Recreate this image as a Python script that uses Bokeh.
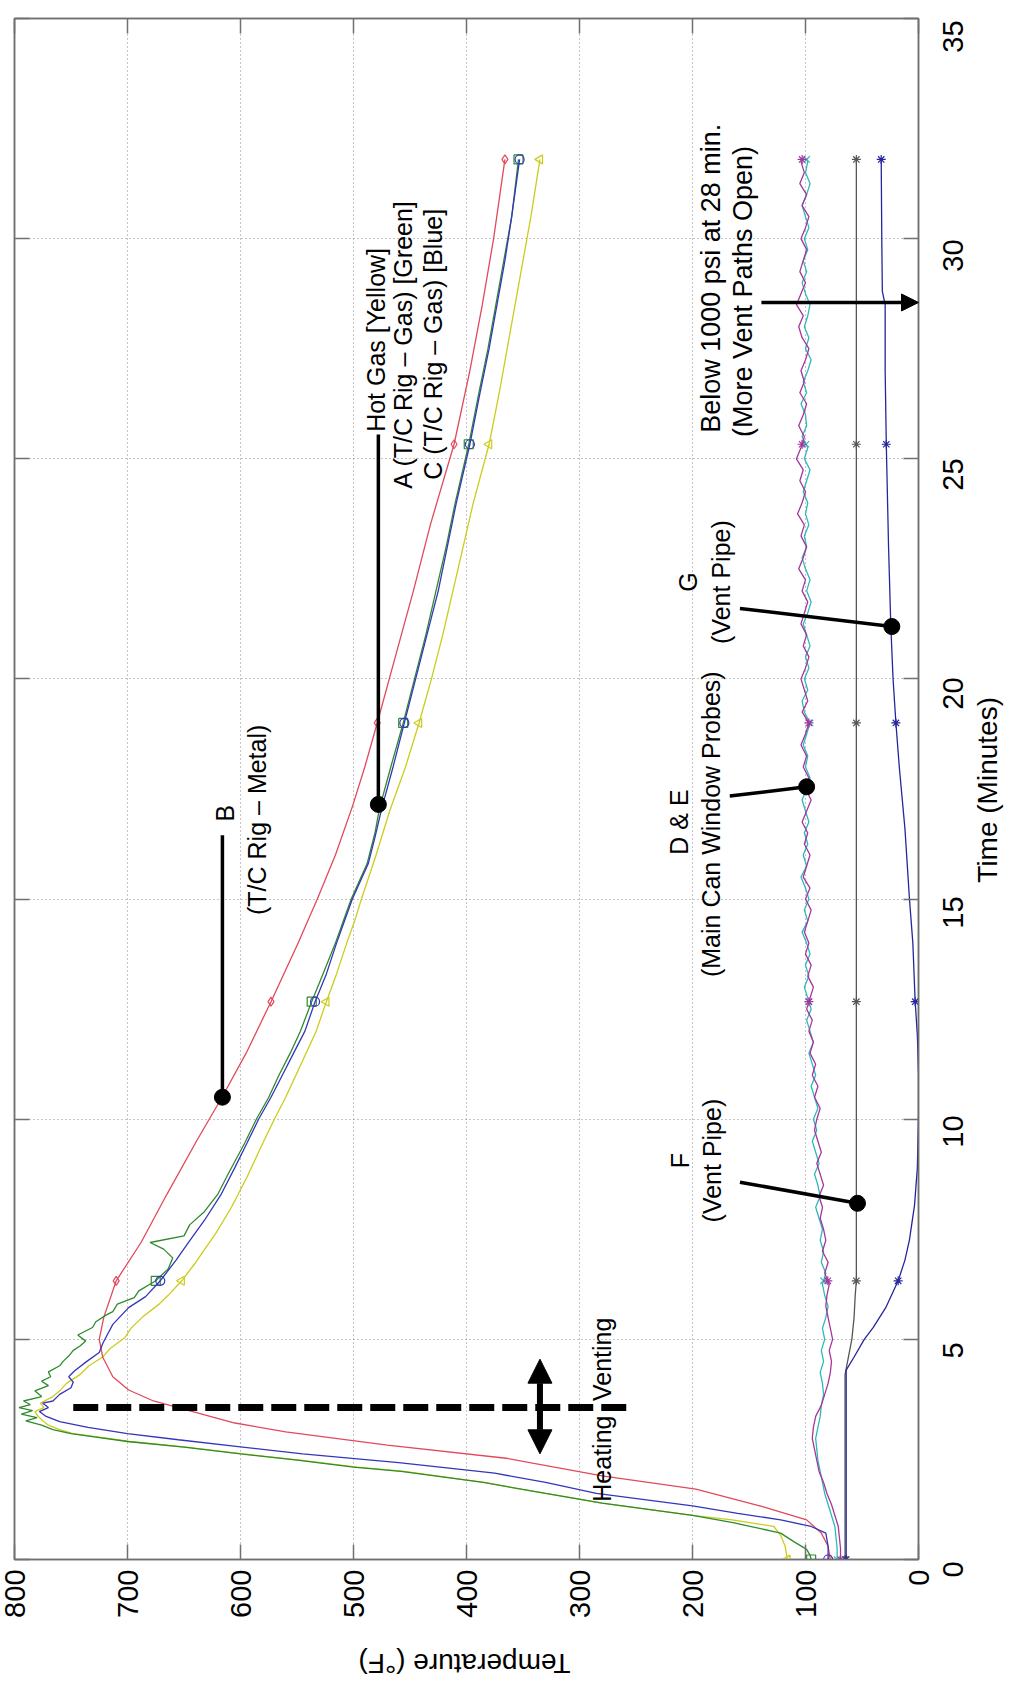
import numpy as np
from math import pi
from bokeh.plotting import figure
from bokeh.layouts import row, column
from bokeh.models import (Range1d, FixedTicker, LinearAxis, Arrow,
                          NormalHead, ColumnDataSource)
from bokeh.core.properties import value
from bokeh.embed import file_html
from bokeh.resources import INLINE

FONT = "Liberation Sans"

# ---------------- data ----------------
temp_ticks = [0, 100, 200, 300, 400, 500, 600, 700, 800]
time_ticks = [0, 5, 10, 15, 20, 25, 30, 35]
marker_times = [0, 6.33, 12.67, 19.0, 25.33, 31.8]

# B  (T/C Rig - Metal)  red
t_red = [0, 0.3, 0.6, 0.9, 1.2, 1.6, 1.9, 2.3, 2.6, 2.9, 3.1, 3.4, 3.6, 3.85, 4.15,
         4.6, 5.0, 5.5, 6.33, 7.2, 8.3, 9.5, 10.47, 11.5, 12.67, 14.0, 15.0, 16.0, 17.1,
         18.0, 19.0, 20.5, 22.0, 23.5, 25.33, 27.0, 28.5, 30.0, 31.8]
T_red = [78, 80, 86, 99, 138, 197, 280, 365, 470, 560, 605, 648, 677, 699, 713,
         722, 725, 721, 710, 688, 665, 639, 617, 595, 573, 549, 532, 516, 501,
         490, 479, 463, 447, 432, 411, 397, 386, 376, 366]

# A  (T/C Rig - Gas)  green
t_green = [0, 0.1, 0.23, 0.4, 0.6, 0.83, 1.0, 1.28, 1.5, 1.75, 2.0, 2.1, 2.25, 2.4, 2.55,
           2.68, 2.78, 2.86, 2.95, 3.05, 3.15, 3.22, 3.3, 3.38, 3.45, 3.52, 3.6, 3.7, 3.83,
           3.95, 4.05, 4.15, 4.26, 4.4, 4.5, 4.62, 4.75, 4.85, 4.96, 5.1, 5.27, 5.4, 5.55,
           5.63, 5.8, 5.95, 6.1, 6.33, 6.6, 6.85, 7.05, 7.2, 7.35, 7.6, 7.9, 8.3, 8.8, 9.47,
           10.0, 10.5, 11.0, 11.5, 12.0, 12.67, 13.3, 14.0, 14.5, 15.0, 15.8, 16.5, 17.06,
           18.0, 19.0, 20.0, 21.0, 22.0, 23.0, 24.0, 25.33, 26.5, 27.5, 28.5, 29.5, 30.5, 31.8]
T_green = [95, 96, 99, 110, 122, 163, 200, 280, 330, 385, 458, 500, 548, 600, 650,
           700, 728, 750, 766, 776, 790, 780, 794, 784, 796, 786, 792, 776, 782,
           770, 776, 768, 770, 760, 757, 752, 748, 742, 737, 744, 731, 728, 719,
           713, 709, 694, 690, 675, 664, 660, 668, 680, 650, 645, 632, 620, 610, 596,
           586, 575, 566, 556, 547, 537, 527, 516, 509, 502, 488, 481, 477,
           467, 456, 446, 436, 427, 418, 410, 398, 389, 381, 374, 367, 360, 354]

# C  (T/C Rig - Gas)  blue
t_blue = [0, 0.3, 0.6, 0.75, 0.9, 1.05, 1.22, 1.5, 1.75, 1.96, 2.2, 2.4, 2.56, 2.72, 2.86,
          3.0, 3.13, 3.25, 3.36, 3.45, 3.55, 3.6, 3.75, 3.9, 4.03, 4.15, 4.28, 4.5, 4.7,
          4.9, 5.1, 5.34, 5.72, 5.97, 6.33, 6.8, 7.2, 7.7, 8.3, 8.9, 9.47, 10.0, 10.5, 11.0,
          11.5, 12.0, 12.67, 13.3, 14.0, 14.5, 15.0, 15.8, 16.4, 17.06, 18.0, 19.0, 20.0,
          21.0, 22.0, 23.0, 24.0, 25.33, 26.5, 27.5, 28.5, 29.5, 30.5, 31.8]
T_blue = [80, 80, 82, 95, 122, 160, 200, 285, 330, 375, 460, 545, 600, 655, 700,
          735, 760, 772, 778, 770, 775, 766, 760, 750, 748, 752, 747, 736, 725,
          722, 718, 713, 699, 684, 671, 657, 646, 632, 617, 605, 594, 584, 573, 563,
          553, 543, 534, 524, 515, 508, 501, 487, 481, 475, 465, 455, 445,
          435, 425, 417, 409, 397, 388, 380, 373, 366, 360, 353]

# Hot gas  yellow
t_yel = [0, 0.3, 0.55, 0.75, 0.9, 1.0, 1.28, 1.5, 1.75, 2.0, 2.1, 2.25, 2.4, 2.55, 2.68,
         2.78, 2.86, 2.95, 3.05, 3.15, 3.25, 3.36, 3.45, 3.55, 3.7, 3.83, 4.0, 4.2, 4.4,
         4.6, 4.8, 5.05, 5.25, 5.5, 5.8, 6.0, 6.33, 6.7, 7.0, 7.4, 8.0, 8.7, 9.47, 10.0,
         10.5, 11.0, 11.5, 12.0, 12.67, 13.3, 14.0, 14.5, 15.0, 16.0, 17.0, 18.0, 19.0,
         20.0, 21.0, 22.0, 23.0, 24.0, 25.33, 26.5, 27.5, 28.5, 29.5, 30.5, 31.8]
T_yel = [116, 118, 122, 128, 165, 200, 280, 330, 385, 455, 497, 545, 598, 648, 698,
         725, 748, 760, 770, 775, 779, 782, 774, 777, 766, 760, 754, 742, 734,
         722, 715, 702, 697, 687, 672, 664, 652, 641, 633, 622, 608, 594, 580, 570,
         560, 551, 542, 533, 524, 515, 506, 499, 493, 480, 468, 454, 442,
         431, 421, 412, 403, 394, 380, 371, 364, 357, 350, 343, 335]

# D & E  main can window probes
t_probe = [0.0, 0.25, 0.5, 0.75, 1.0, 1.25, 1.5, 1.75, 2.0, 2.25, 2.5, 2.75, 3.0, 3.25, 3.5,
           3.75, 4.0, 4.25, 4.5, 4.75, 5.0, 5.25, 5.5, 5.75, 6.0, 6.25, 6.5, 6.75, 7.0,
           7.25, 7.5, 7.75, 8.0, 8.25, 8.5, 8.75, 9.0, 9.25, 9.5, 9.75, 10.0, 10.25, 10.5,
           10.75, 11.0, 11.25, 11.5, 11.75, 12.0, 12.25, 12.5, 12.75, 13.0, 13.25, 13.5,
           13.75, 14.0, 14.25, 14.5, 14.75, 15.0, 15.25, 15.5, 15.75, 16.0, 16.25, 16.5,
           16.75, 17.0, 17.25, 17.5, 17.75, 18.0, 18.25, 18.5, 18.75, 19.0, 19.25, 19.5,
           19.75, 20.0, 20.25, 20.5, 20.75, 21.0, 21.25, 21.5, 21.75, 22.0, 22.25, 22.5,
           22.75, 23.0, 23.25, 23.5, 23.75, 24.0, 24.25, 24.5, 24.75, 25.0, 25.25, 25.5,
           25.75, 26.0, 26.25, 26.5, 26.75, 27.0, 27.25, 27.5, 27.75, 28.0, 28.25, 28.5,
           28.75, 29.0, 29.25, 29.5, 29.75, 30.0, 30.25, 30.5, 30.75, 31.0, 31.25, 31.5,
           31.75, 31.8]
T_mag = [69, 69, 70, 71, 74, 77, 81, 84,
         88, 90, 92, 94, 93, 91, 86, 83,
         80, 78, 77, 79, 76, 78, 80, 82,
         81, 79, 83, 80, 85, 82, 84, 87,
         85, 88, 84, 87, 90, 86, 89, 92,
         90, 87, 92, 89, 94, 91, 96, 93,
         97, 94, 99, 96, 93, 98, 95, 100,
         97, 101, 98, 95, 100, 96, 102, 99,
         96, 101, 98, 103, 99, 95, 100, 97,
         102, 99, 104, 100, 97, 103, 98, 101,
         104, 100, 97, 102, 99, 104, 101, 98,
         103, 100, 106, 102, 99, 104, 101, 107,
         103, 100, 105, 102, 108, 104, 101, 106,
         102, 99, 105, 101, 104, 100, 97, 103,
         106, 102, 108, 104, 100, 105, 102, 99,
         104, 100, 97, 103, 99, 105, 101, 104,
         103]
T_cyan = [72, 72, 73, 74, 77, 80, 83, 85,
          87, 89, 90, 91, 89, 87, 86, 84,
          85, 87, 84, 86, 83, 85, 82, 80,
          83, 85, 82, 86, 84, 87, 85, 88,
          91, 87, 89, 92, 88, 91, 94, 90,
          93, 89, 92, 95, 91, 94, 97, 93,
          96, 99, 95, 98, 101, 97, 100, 96,
          99, 103, 98, 101, 97, 100, 104, 99,
          102, 98, 101, 97, 100, 103, 99, 96,
          100, 98, 102, 99, 96, 101, 103, 98,
          101, 97, 100, 96, 99, 102, 98, 95,
          99, 96, 100, 103, 99, 101, 97, 100,
          98, 102, 99, 96, 101, 98, 103, 99,
          100, 104, 99, 102, 98, 95, 100, 97,
          101, 98, 96, 100, 103, 99, 102, 98,
          101, 97, 100, 103, 99, 96, 100, 98,
          99]

# F  vent pipe  grey
t_f = [0, 4.2, 4.6, 5.0, 5.5, 6.0, 6.33, 8.0, 10.0, 15.0, 20.0, 25.0, 31.8]
T_f = [65, 65, 62, 59, 57, 56, 55, 55, 55, 55, 55, 55, 55]

# G  vent pipe  navy
t_g = [0, 4.3, 4.6, 5.0, 5.27, 5.72, 6.33, 6.8, 7.26, 8.05, 8.9, 10.1, 11.0, 11.9, 12.7,
       14.0, 15.0, 16.6, 18.0, 19.0, 20.0, 21.2, 23.0, 25.33, 27.0, 28.5, 28.8, 30.0, 31.8]
T_g = [64, 64, 57, 48, 40, 29, 18, 12, 8, 3.5, 1, 0, 0, 1, 3,
       5, 8, 12, 17, 20, 22.5, 24.5, 26.5, 28.5, 29.5, 29.5, 32, 32.5, 33]

# ---------------- layout geometry (page pixels) ----------------
PAGE0 = 8                      # body margin
FR_LEFT, FR_RIGHT = 22, 926    # plot frame, page x
FR_TOP, FR_BOT = 26, 1567      # plot frame, page y
LAB_BOT = 1559                 # page y where the "0" time label sits (as in the source image)
BORDER_L = FR_LEFT - PAGE0
BORDER_T = FR_TOP - PAGE0
BORDER_R = 17
BORDER_B = 80
FRAME_W = FR_RIGHT - FR_LEFT
FRAME_H = FR_BOT - FR_TOP
MAIN_W = BORDER_L + FRAME_W + BORDER_R
MAIN_H = BORDER_T + FRAME_H + BORDER_B
SIDE_W = 70
FOOT_H = 1678 - MAIN_H
T_MIN, T_MAX = 0.0, 35.0

FRAME = "#707070"
TICK_FONT = "29px"

# ---------------- main figure ----------------
p = figure(frame_width=FRAME_W, frame_height=FRAME_H, x_range=Range1d(800, 0),
           y_range=Range1d(T_MIN, T_MAX), y_axis_location="right", toolbar_location=None,
           output_backend="svg", title=None,
           min_border_left=BORDER_L, min_border_top=BORDER_T,
           min_border_right=BORDER_R, min_border_bottom=BORDER_B)
p.outline_line_color = FRAME
p.outline_line_width = 1.5
p.background_fill_color = "white"
p.border_fill_color = "white"

def style_ticks(ax, ticks):
    ax.ticker = FixedTicker(ticks=ticks)
    ax.major_tick_in = 15
    ax.major_tick_out = 0
    ax.minor_tick_in = 0
    ax.minor_tick_out = 0
    ax.axis_line_color = FRAME
    ax.axis_line_width = 1.5
    ax.major_tick_line_color = FRAME
    ax.major_tick_line_width = 1.5

xa = p.xaxis[0]
style_ticks(xa, temp_ticks)
xa.major_label_text_font = FONT
xa.major_label_text_font_size = TICK_FONT
xa.major_label_text_color = "black"
xa.major_label_orientation = pi / 2
xa.major_label_standoff = 10

ya = p.yaxis[0]
style_ticks(ya, time_ticks)
ya.major_label_text_font_size = "1px"
ya.major_label_text_color = None
ya.major_label_standoff = 0

for side, ticks in (("above", temp_ticks), ("left", time_ticks)):
    extra = LinearAxis()
    style_ticks(extra, ticks)
    extra.major_label_text_font_size = "1px"
    extra.major_label_text_color = None
    extra.major_label_standoff = 0
    p.add_layout(extra, side)

p.xgrid.ticker = FixedTicker(ticks=temp_ticks)
p.ygrid.ticker = FixedTicker(ticks=time_ticks)
for g in (p.xgrid, p.ygrid):
    g.grid_line_color = "#8a8a8a"
    g.grid_line_dash = "1 3"
    g.grid_line_width = 1

series = [
    (t_f, T_f, "#555555", "asterisk", 0),
    (t_g, T_g, "#26269a", "asterisk", 0),
    (t_probe, T_cyan, "#2fb8b8", "x", 0),
    (t_probe, T_mag, "#a4369e", "asterisk", 0),
    (t_yel, T_yel, "#cccc1c", "triangle", pi / 2),
    (t_red, T_red, "#e04a5a", "diamond", 0),
    (t_green, T_green, "#2e8b2e", "square", 0),
    (t_blue, T_blue, "#3535bb", "circle", 0),
]
for tt, TT, col, mk, ang in series:
    p.line(x=TT, y=tt, line_color=col, line_width=1.3)
    mk_T = np.interp(marker_times, tt, TT)
    p.scatter(x=mk_T, y=marker_times, marker=mk, size=9, angle=ang,
              fill_color=None, line_color=col, line_width=1.2)

# ---------------- annotations ----------------
p.line(x=[748, 252], y=[3.45, 3.45], line_color="black", line_width=7, line_dash="25 8")
p.add_layout(Arrow(start=NormalHead(size=24, fill_color="black", line_color="black"),
                   end=NormalHead(size=24, fill_color="black", line_color="black"),
                   x_start=335, y_start=2.4, x_end=335, y_end=4.55,
                   line_color="black", line_width=6))
p.add_layout(Arrow(end=NormalHead(size=17, fill_color="black", line_color="black"),
                   x_start=139, y_start=28.55, x_end=0, y_end=28.55,
                   line_color="black", line_width=3.5))

lead = ColumnDataSource(dict(
    x0=[616, 478, 167, 158, 158],
    y0=[16.45, 25.55, 17.34, 8.57, 21.6],
    x1=[616, 478, 99, 54, 23.6],
    y1=[10.5, 17.15, 17.55, 8.09, 21.19]))
p.segment(x0="x0", y0="y0", x1="x1", y1="y1", source=lead, line_color="black", line_width=3.5)
p.scatter(x="x1", y="y1", source=lead, size=16, color="black")

ann = ColumnDataSource(dict(
    text=["B", "(T/C Rig \u2013 Metal)", "Hot Gas [Yellow]",
          "A (T/C Rig \u2013 Gas) [Green]", "C (T/C Rig \u2013 Gas) [Blue]",
          "D & E", "(Main Can Window Probes)", "F", "(Vent Pipe)", "G", "(Vent Pipe)"],
    x=[614, 585, 480, 456, 430, 212, 184, 211, 183, 204, 175],
    y=[16.95, 16.8, 27.7, 27.6, 27.6, 16.75, 16.7, 9.06, 9.06, 22.2, 22.2]))
p.text(x="x", y="y", text="text", source=ann, angle=pi / 2, text_align="center",
       text_baseline="middle", text_font=value(FONT), text_font_size=value("25px"),
       text_color="black")
p.text(x=[184, 155], y=[29.1, 28.8],
       text=["Below 1000 psi at 28 min.", "(More Vent Paths Open)"],
       angle=pi / 2, text_align="center", text_baseline="middle", text_font=value(FONT),
       text_font_size=value("27px"), text_color="black")
p.text(x=[280], y=[3.27], text=["Heating"], angle=pi / 2, text_align="right",
       text_baseline="middle", text_font=value(FONT), text_font_size=value("25px"),
       text_color="black")
p.text(x=[280], y=[3.6], text=["Venting"], angle=pi / 2, text_align="left",
       text_baseline="middle", text_font=value(FONT), text_font_size=value("25px"),
       text_color="black")

# ---------------- right strip: time tick labels and title ----------------
lab_px_per_min = (LAB_BOT - FR_TOP) / (T_MAX - T_MIN)
side_top_t = T_MAX + BORDER_T / lab_px_per_min
side_bot_t = T_MIN - (PAGE0 + MAIN_H - LAB_BOT) / lab_px_per_min
x0_side = PAGE0 + MAIN_W
p2 = figure(frame_width=SIDE_W, frame_height=MAIN_H, x_range=Range1d(x0_side, x0_side + SIDE_W),
            y_range=Range1d(side_bot_t, side_top_t), toolbar_location=None, title=None,
            output_backend="svg", x_axis_location=None, y_axis_location=None,
            min_border=0, min_border_left=0, min_border_right=0, min_border_top=0,
            min_border_bottom=0)
p2.outline_line_color = None
p2.grid.grid_line_color = None
p2.background_fill_color = "white"
p2.border_fill_color = "white"
p2.text(x=[960] * len(time_ticks), y=time_ticks, text=[str(v) for v in time_ticks],
        angle=pi / 2, text_align="center", text_baseline="middle", text_font=value(FONT),
        text_font_size=value(TICK_FONT), text_color="black")
p2.text(x=[995], y=[17.8], text=["Time (Minutes)"], angle=pi / 2, text_align="center",
        text_baseline="middle", text_font=value(FONT), text_font_size=value("28px"),
        text_color="black")

# ---------------- bottom strip: temperature title ----------------
p3 = figure(frame_width=MAIN_W + SIDE_W, frame_height=FOOT_H,
            x_range=Range1d(PAGE0, PAGE0 + MAIN_W + SIDE_W), y_range=Range1d(0, FOOT_H),
            toolbar_location=None, output_backend="svg", title=None, x_axis_location=None,
            y_axis_location=None, min_border=0, min_border_left=0, min_border_right=0,
            min_border_top=0, min_border_bottom=0)
p3.outline_line_color = None
p3.grid.grid_line_color = None
p3.background_fill_color = "white"
p3.border_fill_color = "white"
p3.text(x=[472], y=[15], text=["Temperature (\u00b0F)"], angle=pi, text_align="center",
        text_baseline="middle", text_font=value(FONT), text_font_size=value("28px"),
        text_color="black")

layout = column(row(p, p2, spacing=0), p3, spacing=0)
open("out.html", "w").write(file_html(layout, INLINE))
